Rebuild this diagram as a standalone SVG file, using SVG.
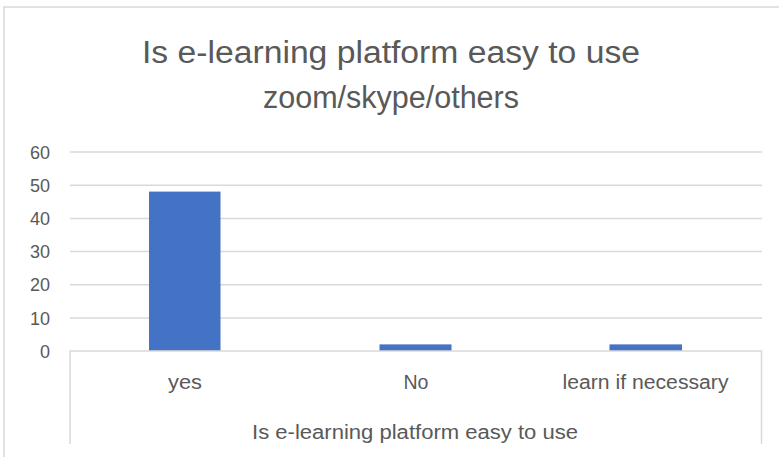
<svg xmlns="http://www.w3.org/2000/svg" width="779" height="457" viewBox="0 0 779 457">
<style>
.t{font-family:"Liberation Sans",Arial,sans-serif;fill:#595959}
.grid{stroke:#d9d9d9;stroke-width:1.5;fill:none}
.bar{fill:#4472c4}
</style>
<rect x="0" y="0" width="779" height="457" fill="#ffffff"/>
<rect x="4" y="7" width="800" height="480" fill="none" stroke="#d9d9d9" stroke-width="1.5"/>
<g id="title">
<text class="t" x="391" y="63" font-size="31" text-anchor="middle" textLength="498" lengthAdjust="spacingAndGlyphs">Is e-learning platform easy to use</text>
<text class="t" x="391" y="108" font-size="31" text-anchor="middle" textLength="256" lengthAdjust="spacingAndGlyphs">zoom/skype/others</text>
</g>
<g id="gridlines">
<line class="grid" x1="70" y1="152" x2="762" y2="152"/>
<line class="grid" x1="70" y1="185.2" x2="762" y2="185.2"/>
<line class="grid" x1="70" y1="218.4" x2="762" y2="218.4"/>
<line class="grid" x1="70" y1="251.6" x2="762" y2="251.6"/>
<line class="grid" x1="70" y1="284.8" x2="762" y2="284.8"/>
<line class="grid" x1="70" y1="318" x2="762" y2="318"/>
</g>
<g id="axis-labels">
<text class="t" x="50" y="158.5" font-size="18" text-anchor="end">60</text>
<text class="t" x="50" y="191.5" font-size="18" text-anchor="end">50</text>
<text class="t" x="50" y="225" font-size="18" text-anchor="end">40</text>
<text class="t" x="50" y="258" font-size="18" text-anchor="end">30</text>
<text class="t" x="50" y="291.3" font-size="18" text-anchor="end">20</text>
<text class="t" x="50" y="324.5" font-size="18" text-anchor="end">10</text>
<text class="t" x="50" y="357.5" font-size="18" text-anchor="end">0</text>
</g>
<g id="bars">
<rect id="bar-yes" class="bar" x="149" y="191.6" width="71.5" height="159.4"/>
<rect id="bar-no" class="bar" x="379.5" y="344.4" width="72" height="6.6"/>
<rect id="bar-learn" class="bar" x="609.5" y="344.4" width="72.5" height="6.6"/>
</g>
<g id="connectors">
<path class="grid" d="M70,444 V351 H761.5 V444"/>
</g>
<g id="categories">
<text class="t" x="185" y="389" font-size="20" text-anchor="middle" textLength="34" lengthAdjust="spacingAndGlyphs">yes</text>
<text class="t" x="416" y="389" font-size="20" text-anchor="middle" textLength="25" lengthAdjust="spacingAndGlyphs">No</text>
<text class="t" x="645.5" y="389" font-size="20" text-anchor="middle" textLength="166" lengthAdjust="spacingAndGlyphs">learn if necessary</text>
<text class="t" x="415" y="439" font-size="20" text-anchor="middle" textLength="326" lengthAdjust="spacingAndGlyphs">Is e-learning platform easy to use</text>
</g>
</svg>
